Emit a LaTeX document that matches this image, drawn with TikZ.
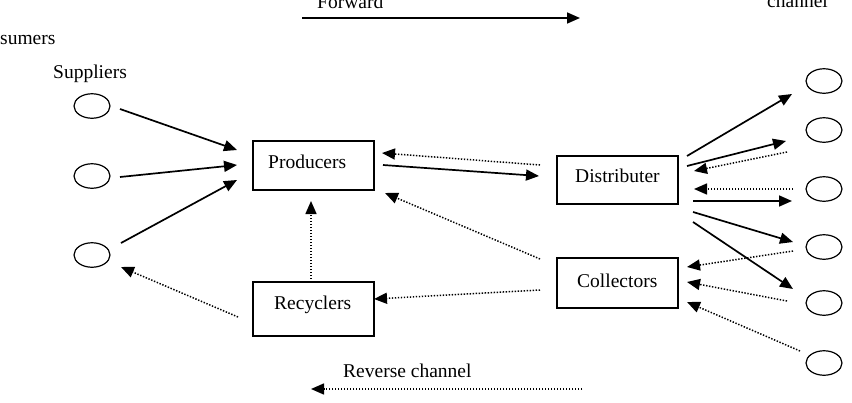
\documentclass[tikz,border=0pt]{standalone}
\usepackage{fontspec}
\setmainfont{Liberation Serif}
\usetikzlibrary{arrows.meta,shapes.geometric}
\tikzset{
  lbl/.style={anchor=base west, inner sep=0pt, font=\fontsize{19.5}{22}\selectfont},
  boxnode/.style={draw, line width=1.3pt},
  ell/.style={draw, ellipse, line width=1.2pt, minimum width=36pt, minimum height=24.5pt, inner sep=0pt},
  solidarr/.style={line width=1.7pt, -{Triangle[length=13pt,width=11pt]}},
  dotarr/.style={line width=1.5pt, dash pattern=on 1.4pt off 1.6pt, -{Triangle[length=13pt,width=11pt]}}
}
\begin{document}
\begin{tikzpicture}[x=1pt,y=-1pt]
\useasboundingbox (0,0) rectangle (852,402);
% boxes
\draw[boxnode] (253,141) rectangle (374,190);
\draw[boxnode] (253,282) rectangle (374,336);
\draw[boxnode] (557,156) rectangle (678,204);
\draw[boxnode] (557,258) rectangle (678,308);
% labels
\node[lbl] (fwd) at (317,8) {Forward};
\node[lbl] (chan) at (767,7) {channel};
\node[lbl] (cons) at (0,44) {sumers};
\node[lbl] (supl) at (53,78) {Suppliers};
\node[lbl] (prod) at (268,168) {Producers};
\node[lbl] (recy) at (274,309) {Recyclers};
\node[lbl] (dist) at (575,182) {Distributer};
\node[lbl] (coll) at (577,287) {Collectors};
\node[lbl] (rev) at (343,377) {Reverse channel};
% ellipses
\node[ell] (s1) at (92,106) {};
\node[ell] (s2) at (92,176) {};
\node[ell] (s3) at (92,255) {};
\node[ell] (c1) at (824,81) {};
\node[ell] (c2) at (824,130) {};
\node[ell] (c3) at (824,189) {};
\node[ell] (c4) at (824,247) {};
\node[ell] (c5) at (824,303) {};
\node[ell] (c6) at (824,363) {};
% legend arrows
\coordinate (fa) at (302,18); \coordinate (fb) at (580,18);
\draw[solidarr] (fa) -- (fb);
\coordinate (ra) at (582,389); \coordinate (rb) at (311,389);
\draw[dotarr] (ra) -- (rb);
% suppliers to producers
\coordinate (s1o) at (120,109); \coordinate (p1) at (237,150);
\coordinate (s2o) at (120,177); \coordinate (p2) at (237,165);
\coordinate (s3o) at (121,243); \coordinate (p3) at (237,180);
\draw[solidarr] (s1o) -- (p1);
\draw[solidarr] (s2o) -- (p2);
\draw[solidarr] (s3o) -- (p3);
% producers <-> distributer
\coordinate (po) at (383,165); \coordinate (di) at (539,176);
\draw[solidarr] (po) -- (di);
\coordinate (do) at (540,165); \coordinate (pi) at (382,153);
\draw[dotarr] (do) -- (pi);
% collectors to producers, recyclers
\coordinate (co1) at (540,259); \coordinate (pi2) at (385,193);
\draw[dotarr] (co1) -- (pi2);
\coordinate (co2) at (540,290); \coordinate (ri) at (374,299);
\draw[dotarr] (co2) -- (ri);
% recyclers to producers
\coordinate (ro) at (311,282); \coordinate (pb) at (311,201);
\draw[dotarr] (ro) -- (pb);
% recyclers to supplier
\coordinate (ro2) at (238,317); \coordinate (si) at (121,267);
\draw[dotarr] (ro2) -- (si);
% distributer to consumers
\coordinate (d1) at (687,156); \coordinate (t1) at (792,94);
\coordinate (d2) at (687,166); \coordinate (t2) at (786,141);
\coordinate (d3) at (693,201); \coordinate (t3) at (792,201);
\coordinate (d4) at (693,212); \coordinate (t4) at (793,242);
\coordinate (d5) at (693,222); \coordinate (t5) at (793,289);
\draw[solidarr] (d1) -- (t1);
\draw[solidarr] (d2) -- (t2);
\draw[solidarr] (d3) -- (t3);
\draw[solidarr] (d4) -- (t4);
\draw[solidarr] (d5) -- (t5);
% consumers back
\coordinate (b1) at (787,152); \coordinate (e1) at (694,171);
\coordinate (b2) at (793,189); \coordinate (e2) at (694,189);
\coordinate (b3) at (793,251); \coordinate (e3) at (687,267);
\coordinate (b4) at (787,301); \coordinate (e4) at (687,282);
\coordinate (b5) at (800,351); \coordinate (e5) at (687,302);
\draw[dotarr] (b1) -- (e1);
\draw[dotarr] (b2) -- (e2);
\draw[dotarr] (b3) -- (e3);
\draw[dotarr] (b4) -- (e4);
\draw[dotarr] (b5) -- (e5);
\end{tikzpicture}
\end{document}
